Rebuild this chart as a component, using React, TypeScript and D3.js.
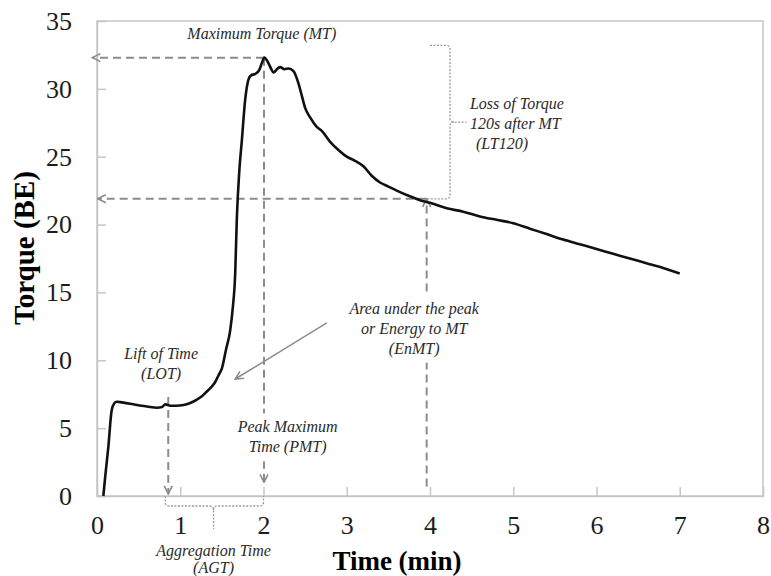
import React, { useRef, useEffect } from "react";
import * as d3 from "d3";

// torque curve
const times = [
  0.076, 0.1, 0.136, 0.176, 0.21, 0.236, 0.3, 0.4, 0.48, 0.6, 0.72, 0.78, 0.82,
  0.88, 0.95, 1.04, 1.12, 1.2, 1.26, 1.32, 1.37, 1.42, 1.46, 1.5, 1.55, 1.6,
  1.63, 1.66, 1.68, 1.71, 1.74, 1.78, 1.82, 1.85, 1.9, 1.95, 1.98, 2.01, 2.05,
  2.09, 2.12, 2.17, 2.2, 2.25, 2.3, 2.36, 2.42, 2.46, 2.5, 2.56, 2.64, 2.7, 2.8,
  2.9, 3.0, 3.1, 3.2, 3.3, 3.4, 3.5, 3.6, 3.75, 3.88, 4.0, 4.2, 4.4, 4.6, 4.8,
  5.0, 5.2, 5.4, 5.6, 5.8, 6.0, 6.2, 6.4, 6.6, 6.8, 7.0,
];
const torque = [
  0, 1.5, 3.6, 6.3, 6.85, 6.95, 6.9, 6.8, 6.7, 6.6, 6.5, 6.55, 6.75, 6.65,
  6.65, 6.7, 6.85, 7.1, 7.35, 7.7, 8.0, 8.4, 8.9, 9.4, 10.8, 12.2, 13.8, 16.4,
  20.5, 24.0, 26.2, 29.2, 30.7, 31.0, 31.1, 31.4, 31.9, 32.3, 32.0, 31.5, 31.2,
  31.5, 31.6, 31.45, 31.5, 31.3, 30.4, 29.5, 28.6, 27.9, 27.2, 26.9, 26.1, 25.5,
  25.0, 24.7, 24.3, 23.6, 23.1, 22.8, 22.5, 22.1, 21.8, 21.6, 21.2, 20.95, 20.6,
  20.35, 20.1, 19.7, 19.3, 18.9, 18.55, 18.2, 17.85, 17.5, 17.15, 16.8, 16.4,
];

const xTicks = [0, 1, 2, 3, 4, 5, 6, 7, 8];
const yTicks = [0, 5, 10, 15, 20, 25, 30, 35];

// key markers on the curve
const lotTime = 0.856;
const pmtTime = 2.006;
const maxTorque = 32.3;
const lt120Time = 3.96;
const lt120Torque = 21.9;

const App = () => {
  const ref = useRef(null);

  useEffect(() => {
    const W = 771;
    const H = 576;
    const margin = { top: 21, right: 8, bottom: 80, left: 97 };
    const svg = d3.select(ref.current);
    svg.selectAll("*").remove();
    svg.attr("width", W).attr("height", H);

    const x = d3.scaleLinear().domain([0, 8]).range([margin.left, W - margin.right]);
    const y = d3.scaleLinear().domain([0, 35]).range([H - margin.bottom, margin.top]);

    const serif = "'Liberation Serif', 'Times New Roman', serif";
    const axisColor = "#c6c6c6";
    const dashColor = "#8c8c8c";
    const noteColor = "#2a2a2a";

    svg.append("rect").attr("width", W).attr("height", H).attr("fill", "#fff");

    const defs = svg.append("defs");
    defs
      .append("marker")
      .attr("id", "chev")
      .attr("viewBox", "0 0 10 10")
      .attr("refX", 9)
      .attr("refY", 5)
      .attr("markerWidth", 10)
      .attr("markerHeight", 10)
      .attr("markerUnits", "userSpaceOnUse")
      .attr("orient", "auto")
      .append("path")
      .attr("d", "M1,1 L9,5 L1,9")
      .attr("fill", "none")
      .attr("stroke", dashColor)
      .attr("stroke-width", 1.6);

    // frame
    svg
      .append("rect")
      .attr("x", x(0))
      .attr("y", y(35))
      .attr("width", x(8) - x(0))
      .attr("height", y(0) - y(35))
      .attr("fill", "none")
      .attr("stroke", axisColor)
      .attr("stroke-width", 1.5);

    // axes
    const gx = svg
      .append("g")
      .attr("transform", `translate(0,${y(0)})`)
      .call(d3.axisBottom(x).tickValues(xTicks).tickSize(-9).tickPadding(20).tickFormat(d3.format("d")));
    gx.select(".domain").attr("stroke", axisColor).attr("stroke-width", 1.5);
    gx.selectAll(".tick line").attr("stroke", axisColor).attr("stroke-width", 1.5);
    gx.selectAll(".tick").filter((d) => d === 0 || d === 8).select("line").remove();
    gx.selectAll("text").attr("font-family", serif).attr("font-size", 26).attr("fill", "#1c1c1c");

    const gy = svg
      .append("g")
      .attr("transform", `translate(${x(0)},0)`)
      .call(d3.axisLeft(y).tickValues(yTicks).tickSize(-9).tickPadding(25).tickFormat(d3.format("d")));
    gy.select(".domain").attr("stroke", axisColor).attr("stroke-width", 1.5);
    gy.selectAll(".tick line").attr("stroke", axisColor).attr("stroke-width", 1.5);
    gy.selectAll(".tick").filter((d) => d === 0 || d === 35).select("line").remove();
    gy.selectAll("text").attr("font-family", serif).attr("font-size", 26).attr("fill", "#1c1c1c");

    // axis titles
    svg
      .append("text")
      .attr("x", 397)
      .attr("y", 570)
      .attr("text-anchor", "middle")
      .attr("font-family", serif)
      .attr("font-weight", "bold")
      .attr("font-size", 27)
      .text("Time (min)");

    svg
      .append("text")
      .attr("transform", "translate(34,248) rotate(-90)")
      .attr("text-anchor", "middle")
      .attr("font-family", serif)
      .attr("font-weight", "bold")
      .attr("font-size", 29)
      .text("Torque (BE)");

    // dashed guide lines
    const guides = svg.append("g");
    const dashed = (t1, v1, t2, v2, arrow) => {
      const l = guides
        .append("line")
        .attr("x1", x(t1))
        .attr("y1", y(v1))
        .attr("x2", x(t2))
        .attr("y2", y(v2))
        .attr("stroke", dashColor)
        .attr("stroke-width", 2)
        .attr("stroke-dasharray", "8,5");
      if (arrow) l.attr("marker-end", "url(#chev)");
    };
    dashed(pmtTime, maxTorque, -0.055, maxTorque, true);
    dashed(lt120Time, lt120Torque, 0.01, lt120Torque, true);
    dashed(pmtTime, maxTorque, pmtTime, 1.0, true);
    dashed(lotTime, 7.3, lotTime, 0.15, true);
    dashed(lt120Time, 0.7, lt120Time, lt120Torque, true);

    // EnMT arrow (solid)
    svg
      .append("line")
      .attr("x1", x(2.76))
      .attr("y1", y(12.75))
      .attr("x2", x(1.66))
      .attr("y2", y(8.62))
      .attr("stroke", dashColor)
      .attr("stroke-width", 1.5)
      .attr("marker-end", "url(#chev)");

    // braces (dotted)
    const r = 4;
    const bx0 = x(4.0);
    const bx = x(4.24);
    const bTop = y(33.2);
    const bBot = y(lt120Torque);
    const bMid = (bTop + bBot) / 2;
    const lt = d3.path();
    lt.moveTo(bx0, bTop);
    lt.lineTo(bx - r, bTop);
    lt.quadraticCurveTo(bx, bTop, bx, bTop + r);
    lt.lineTo(bx, bMid - r);
    lt.quadraticCurveTo(bx, bMid, bx + r, bMid);
    lt.lineTo(x(4.44), bMid);
    lt.moveTo(bx + r, bMid);
    lt.quadraticCurveTo(bx, bMid, bx, bMid + r);
    lt.lineTo(bx, bBot - r);
    lt.quadraticCurveTo(bx, bBot, bx - r, bBot);
    lt.lineTo(x(3.97), bBot);

    const ax0 = x(0.82);
    const ax1 = x(2.0);
    const axm = x(1.4);
    const aTop = y(0);
    const aBot = y(0) + 10;
    const ag = d3.path();
    ag.moveTo(ax0, aTop);
    ag.lineTo(ax0, aBot - r);
    ag.quadraticCurveTo(ax0, aBot, ax0 + r, aBot);
    ag.lineTo(axm - r, aBot);
    ag.quadraticCurveTo(axm, aBot, axm, aBot + r);
    ag.lineTo(axm, aBot + 23);
    ag.moveTo(axm, aBot + r);
    ag.quadraticCurveTo(axm, aBot, axm + r, aBot);
    ag.lineTo(ax1 - r, aBot);
    ag.quadraticCurveTo(ax1, aBot, ax1, aBot - r);
    ag.lineTo(ax1, aTop);

    svg
      .selectAll(".brace")
      .data([lt.toString(), ag.toString()])
      .enter()
      .append("path")
      .attr("class", "brace")
      .attr("d", (d) => d)
      .attr("fill", "none")
      .attr("stroke", "#9a9a9a")
      .attr("stroke-width", 1.3)
      .attr("stroke-dasharray", "2,1.5");

    // torque curve
    const pts = times.map((t, i) => [t, torque[i]]);
    svg
      .append("path")
      .datum(pts)
      .attr("fill", "none")
      .attr("stroke", "#111")
      .attr("stroke-width", 2.6)
      .attr("stroke-linejoin", "round")
      .attr(
        "d",
        d3
          .line()
          .x((d) => x(d[0]))
          .y((d) => y(d[1]))
          .curve(d3.curveMonotoneX)
      );

    // annotations
    const note = (cx, cy, lines, anchor, knockout, gap = 20) => {
      const g = svg.append("g");
      const txt = g
        .append("text")
        .attr("font-family", serif)
        .attr("font-style", "italic")
        .attr("font-size", 16)
        .attr("fill", noteColor)
        .attr("text-anchor", anchor);
      lines.forEach((ln, i) => {
        txt
          .append("tspan")
          .attr("x", cx + (ln.dx || 0))
          .attr("y", cy + i * gap)
          .attr("dy", "0.35em")
          .text(ln.s);
      });
      if (knockout) {
        const b = txt.node().getBBox();
        g.insert("rect", "text")
          .attr("x", b.x - 4)
          .attr("y", b.y - 5)
          .attr("width", b.width + 8)
          .attr("height", b.height + 10)
          .attr("fill", "#fff");
      }
    };

    note(x(1.98), y(34.1), [{ s: "Maximum Torque (MT)" }], "middle", false);
    note(
      x(4.48),
      y(28.96),
      [{ s: "Loss of Torque" }, { s: "120s after MT" }, { s: "(LT120)", dx: 6 }],
      "start",
      false
    );
    note(x(0.77), y(10.54), [{ s: "Lift of Time" }, { s: "(LOT)" }], "middle", false);
    note(
      x(3.81),
      y(13.85),
      [{ s: "Area under the peak" }, { s: "or Energy to MT" }, { s: "(EnMT)" }],
      "middle",
      true
    );
    note(x(2.29), y(5.1), [{ s: "Peak Maximum" }, { s: "Time (PMT)" }], "middle", true);
    note(x(1.4), y(0) + 54, [{ s: "Aggregation Time" }, { s: "(AGT)" }], "middle", false, 17);
  }, []);

  return (
    <svg
      ref={ref}
      style={{ position: "absolute", left: 0, top: 0, display: "block" }}
    ></svg>
  );
};

export default App;
